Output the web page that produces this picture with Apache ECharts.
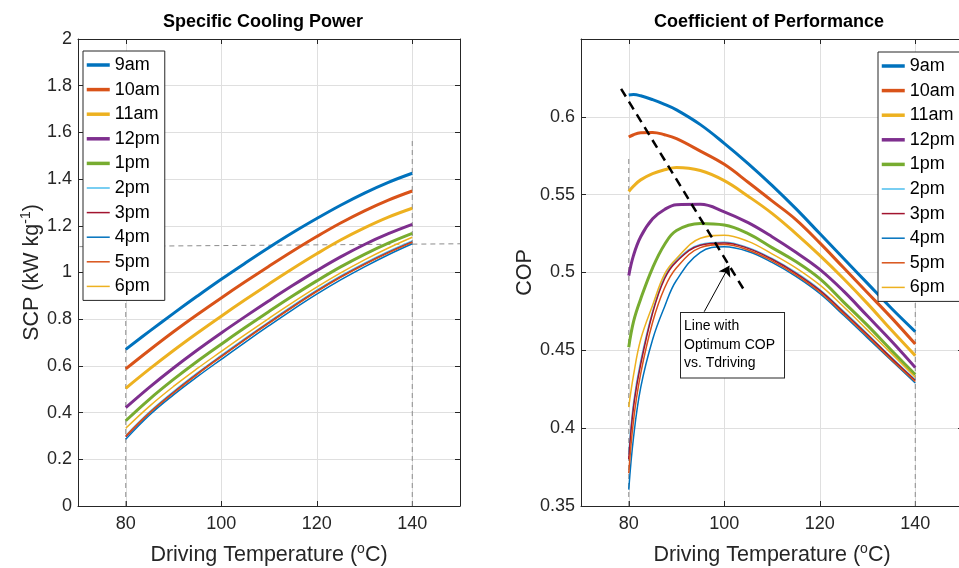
<!DOCTYPE html>
<html>
<head>
<meta charset="utf-8">
<script src="https://cdn.jsdelivr.net/npm/echarts@6/dist/echarts.min.js"></script>
<style>
  html, body { margin: 0; padding: 0; background: #fff; }
  #main { width: 959px; height: 568px; }
</style>
</head>
<body>
<div id="main"></div>
<script>
// ---- data ----
var hours = ['9am', '10am', '11am', '12pm', '1pm', '2pm', '3pm', '4pm', '5pm', '6pm'];
var tempTicks = [80, 100, 120, 140];

// Specific cooling power (kW/kg) vs driving temperature
var tempScp = [80, 85, 90, 95, 100, 105, 110, 115, 120, 125, 130, 135, 140];
var scp9am  = [0.671, 0.749, 0.825, 0.899, 0.971, 1.040, 1.107, 1.171, 1.231, 1.288, 1.340, 1.386, 1.425];
var scp10am = [0.587, 0.668, 0.746, 0.820, 0.891, 0.960, 1.027, 1.092, 1.154, 1.212, 1.264, 1.310, 1.349];
var scp11am = [0.504, 0.587, 0.666, 0.741, 0.813, 0.883, 0.951, 1.017, 1.080, 1.139, 1.191, 1.237, 1.275];
var scp12pm = [0.421, 0.509, 0.591, 0.668, 0.741, 0.811, 0.879, 0.945, 1.008, 1.067, 1.120, 1.166, 1.206];
var scp1pm  = [0.365, 0.458, 0.542, 0.620, 0.693, 0.764, 0.833, 0.900, 0.964, 1.024, 1.078, 1.126, 1.168];
var scp2pm  = [0.301, 0.403, 0.490, 0.570, 0.645, 0.718, 0.789, 0.858, 0.924, 0.985, 1.040, 1.090, 1.135];
var scp3pm  = [0.297, 0.399, 0.486, 0.566, 0.641, 0.714, 0.785, 0.854, 0.920, 0.981, 1.036, 1.086, 1.131];
var scp4pm  = [0.286, 0.390, 0.476, 0.554, 0.628, 0.701, 0.772, 0.841, 0.907, 0.968, 1.024, 1.076, 1.123];
var scp5pm  = [0.300, 0.399, 0.484, 0.564, 0.639, 0.712, 0.783, 0.852, 0.918, 0.979, 1.034, 1.084, 1.129];
var scp6pm  = [0.333, 0.428, 0.512, 0.589, 0.662, 0.734, 0.804, 0.872, 0.937, 0.998, 1.054, 1.105, 1.151];

// Coefficient of performance vs driving temperature
var tempCop = [80, 81, 82.5, 85, 87.5, 90, 95, 100, 105, 110, 115, 120, 125, 130, 135, 140];
var cop9am  = [0.614, 0.6143, 0.6135, 0.611, 0.608, 0.6045, 0.595, 0.583, 0.570, 0.556, 0.541, 0.525, 0.509, 0.493, 0.477, 0.462];
var cop10am = [0.587, 0.5885, 0.5897, 0.590, 0.5885, 0.586, 0.578, 0.5695, 0.558, 0.546, 0.534, 0.519, 0.503, 0.487, 0.471, 0.454];
var cop11am = [0.552, 0.5555, 0.5595, 0.5635, 0.566, 0.5675, 0.5655, 0.559, 0.549, 0.538, 0.525, 0.511, 0.496, 0.480, 0.463, 0.4466];
var cop12pm = [0.498, 0.511, 0.523, 0.5345, 0.5405, 0.5435, 0.5438, 0.539, 0.532, 0.523, 0.513, 0.502, 0.488, 0.472, 0.456, 0.439];
var cop1pm  = [0.452, 0.4685, 0.483, 0.503, 0.518, 0.527, 0.5315, 0.5305, 0.525, 0.516, 0.507, 0.496, 0.481, 0.466, 0.450, 0.4344];
var cop2pm  = [0.383, 0.416, 0.443, 0.475, 0.497, 0.508, 0.518, 0.5195, 0.516, 0.509, 0.500, 0.489, 0.475, 0.4605, 0.4455, 0.431];
var cop3pm  = [0.380, 0.4135, 0.441, 0.474, 0.496, 0.507, 0.5175, 0.519, 0.5155, 0.5085, 0.4995, 0.4885, 0.4745, 0.460, 0.445, 0.4306];
var cop4pm  = [0.3605, 0.394, 0.426, 0.457, 0.478, 0.495, 0.513, 0.5165, 0.5135, 0.5065, 0.4975, 0.4865, 0.4725, 0.458, 0.4435, 0.429];
var cop5pm  = [0.371, 0.405, 0.435, 0.468, 0.490, 0.503, 0.516, 0.518, 0.5145, 0.5075, 0.4985, 0.4875, 0.4735, 0.459, 0.444, 0.430];
var cop6pm  = [0.4135, 0.434, 0.457, 0.479, 0.499, 0.509, 0.522, 0.524, 0.520, 0.512, 0.503, 0.492, 0.478, 0.463, 0.448, 0.4327];

// dashed guide lines
var scpGuideV = [80, 140];          // vertical guides, from 0 up to scpGuideTop
var scpGuideTop = 1.58;
var scpGuideHT = [68.4, 150];       // horizontal guide
var scpGuideHV = [1.1105, 1.123];
var copGuideV = [80, 140];
var copGuideTop = [0.573, 0.62];
// optimum-COP line and arrow
var optimumT = [78.4, 104.3];
var optimumCop = [0.618, 0.488];
var arrowT = [95.8, 101.05];
var arrowCop = [0.4748, 0.5043];

var scpByHour = [scp9am, scp10am, scp11am, scp12pm, scp1pm, scp2pm, scp3pm, scp4pm, scp5pm, scp6pm];
var copByHour = [cop9am, cop10am, cop11am, cop12pm, cop1pm, cop2pm, cop3pm, cop4pm, cop5pm, cop6pm];

// ---- styling ----
var FONT = '"Liberation Sans", Arial, sans-serif';
var AX = '#262626';
var GRID = '#dfdfdf';
var lineColors = ['#0072BD', '#D95319', '#EDB120', '#7E2F8E', '#77AC30', '#4DBEEE', '#A2142F', '#0072BD', '#D95319', '#EDB120'];
var lineWidths = [3, 3, 3, 3, 3, 1.5, 1.5, 1.5, 1.5, 1.5];

function zip(xs, ys) {
    return xs.map(function (x, i) { return [x, ys[i]]; });
}

var nameRich = {
    a: { fontSize: 21.5, fontFamily: FONT, color: AX, lineHeight: 26 },
    s: { fontSize: 14, fontFamily: FONT, color: AX, lineHeight: 14, verticalAlign: 'top' }
};

function bottomX(g) {
    return {
        type: 'value', gridIndex: g, min: 70, max: 150, position: 'bottom',
        axisLine: { show: true, onZero: false, lineStyle: { color: AX, width: 1 } },
        axisTick: { show: true, inside: true, length: 5, customValues: tempTicks, lineStyle: { color: AX } },
        axisLabel: { customValues: tempTicks, color: AX, fontSize: 18, fontFamily: FONT, margin: 9 },
        splitLine: { show: true, lineStyle: { color: GRID, width: 1 } },
        name: '{a|Driving Temperature (}{s|o}{a|C)}',
        nameLocation: 'middle', nameGap: 36,
        nameTextStyle: { rich: nameRich }
    };
}
function topX(g) {
    return {
        type: 'value', gridIndex: g, min: 70, max: 150, position: 'top',
        axisLine: { show: true, onZero: false, lineStyle: { color: AX, width: 1 } },
        axisTick: { show: true, inside: true, length: 5, customValues: tempTicks, lineStyle: { color: AX } },
        axisLabel: { show: false },
        splitLine: { show: false }
    };
}
function sideY(g, pos, min, max, step) {
    return {
        type: 'value', gridIndex: g, min: min, max: max, interval: step, position: pos,
        axisLine: { show: true, onZero: false, lineStyle: { color: AX, width: 1 } },
        axisTick: { show: true, inside: true, length: 5, lineStyle: { color: AX } },
        axisLabel: { show: false },
        splitLine: { show: false }
    };
}

var series = [];
hours.forEach(function (h, i) {
    series.push({
        type: 'line', name: h, xAxisIndex: 0, yAxisIndex: 0,
        data: zip(tempScp, scpByHour[i]),
        symbol: 'none', showSymbol: false, smooth: 0.4,
        lineStyle: { color: lineColors[i], width: lineWidths[i] },
        itemStyle: { color: lineColors[i] },
        z: 3
    });
});
hours.forEach(function (h, i) {
    series.push({
        type: 'line', name: h, xAxisIndex: 2, yAxisIndex: 2,
        data: zip(tempCop, copByHour[i]),
        symbol: 'none', showSymbol: false, smooth: 0.4,
        lineStyle: { color: lineColors[i], width: lineWidths[i] },
        itemStyle: { color: lineColors[i] },
        z: 3
    });
});

function guide(xi, yi, pts, clip) {
    return {
        type: 'line', xAxisIndex: xi, yAxisIndex: yi, data: pts,
        symbol: 'none', silent: true, clip: clip !== false, z: 2,
        lineStyle: { color: '#8c8c8c', width: 1, type: [5, 4] }
    };
}
scpGuideV.forEach(function (t) {
    series.push(guide(0, 0, [[t, 0], [t, scpGuideTop]]));
});
series.push(guide(0, 0, zip(scpGuideHT, scpGuideHV), false));
copGuideV.forEach(function (t, i) {
    series.push(guide(2, 2, [[t, 0.35], [t, copGuideTop[i]]]));
});

// optimum COP dashed line with the annotation arrow
series.push({
    type: 'line', xAxisIndex: 2, yAxisIndex: 2, data: zip(optimumT, optimumCop),
    symbol: 'none', silent: true, clip: false, z: 4,
    lineStyle: { color: '#000', width: 2.5, type: [9, 6] },
    markLine: {
        silent: true, symbol: ['none', 'arrow'], symbolSize: 10,
        label: { show: false },
        lineStyle: { color: '#000', width: 1, type: 'solid' },
        data: [[{ coord: [arrowT[0], arrowCop[0]] }, { coord: [arrowT[1], arrowCop[1]] }]]
    }
});

var legendItems = hours.map(function (h, i) {
    return { name: h, lineStyle: { width: lineWidths[i] === 3 ? 3.5 : 1.5 } };
});
var legendBase = {
    orient: 'vertical', data: legendItems, selectedMode: false,
    itemWidth: 23, itemHeight: 14, itemGap: 4.6,
    padding: [4, 5, 4, 2],
    backgroundColor: '#fff', borderColor: AX, borderWidth: 1, borderRadius: 0,
    itemStyle: { opacity: 0 },
    textStyle: { fontSize: 18, fontFamily: FONT, color: '#000', lineHeight: 20 }
};

var option = {
    animation: false,
    backgroundColor: '#fff',
    grid: [
        { left: 78, top: 39, width: 382, height: 467, outerBoundsMode: 'none' },
        { left: 581, top: 39, width: 382, height: 467, outerBoundsMode: 'none' }
    ],
    xAxis: [bottomX(0), topX(0), bottomX(1), topX(1)],
    yAxis: [
        {
            type: 'value', gridIndex: 0, min: 0, max: 2, interval: 0.2, position: 'left',
            axisLine: { show: true, onZero: false, lineStyle: { color: AX, width: 1 } },
            axisTick: { show: true, inside: true, length: 5, lineStyle: { color: AX } },
            axisLabel: { color: AX, fontSize: 18, fontFamily: FONT, margin: 6 },
            splitLine: { show: true, lineStyle: { color: GRID, width: 1 } },
            name: '{a|SCP (kW kg}{s|-1}{a|)}',
            nameLocation: 'middle', nameGap: 33, nameRotate: 90,
            nameTextStyle: { rich: nameRich }
        },
        sideY(0, 'right', 0, 2, 0.2),
        {
            type: 'value', gridIndex: 1, min: 0.35, max: 0.65, interval: 0.05, position: 'left',
            axisLine: { show: true, onZero: false, lineStyle: { color: AX, width: 1 } },
            axisTick: { show: true, inside: true, length: 5, lineStyle: { color: AX } },
            axisLabel: { color: AX, fontSize: 18, fontFamily: FONT, margin: 6, showMaxLabel: false },
            splitLine: { show: true, lineStyle: { color: GRID, width: 1 } },
            name: '{a|COP}',
            nameLocation: 'middle', nameGap: 40, nameRotate: 90,
            nameTextStyle: { rich: nameRich }
        },
        sideY(1, 'right', 0.35, 0.65, 0.05)
    ],
    legend: [
        Object.assign({}, legendBase, { left: 83, top: 51 }),
        Object.assign({}, legendBase, { left: 878, top: 52 })
    ],
    graphic: [
        {
            type: 'text', x: 263, y: 22, z: 100,
            style: { text: 'Specific Cooling Power', font: 'bold 18px ' + FONT, fill: '#000',
                     align: 'center', verticalAlign: 'middle', textAlign: 'center', textVerticalAlign: 'middle' }
        },
        {
            type: 'text', x: 769, y: 22, z: 100,
            style: { text: 'Coefficient of Performance', font: 'bold 18px ' + FONT, fill: '#000',
                     align: 'center', verticalAlign: 'middle', textAlign: 'center', textVerticalAlign: 'middle' }
        },
        {
            type: 'text', x: 681, y: 313, z: 100,
            style: {
                text: 'Line with\nOptimum COP\nvs. Tdriving', font: '14px ' + FONT, fill: '#000',
                lineHeight: 18.5, backgroundColor: '#fff', borderColor: AX, borderWidth: 1,
                padding: [4, 9, 5, 3]
            }
        }
    ],
    series: series
};

var chart = echarts.init(document.getElementById('main'));
chart.setOption(option);
</script>
</body>
</html>
